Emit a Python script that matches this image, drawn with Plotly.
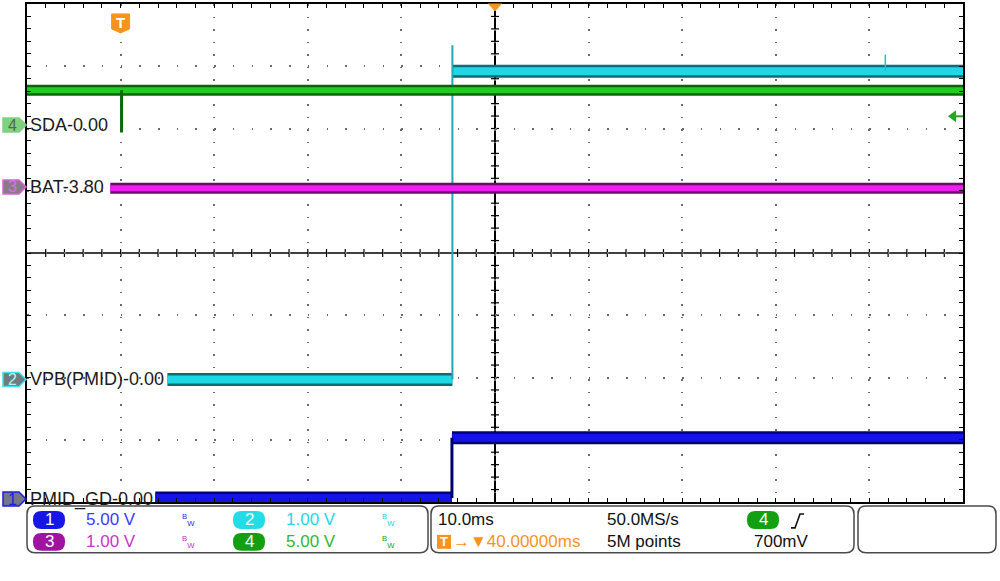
import plotly.graph_objects as go

# ---------------- data ----------------
# horizontal: 10 ms/div, 10 divisions, trigger delay 40 ms (time in ms relative to trigger)
time_per_div_ms = 10.0
n_div_x = 10
trigger_delay_ms = 40.0
t_left = trigger_delay_ms - n_div_x / 2 * time_per_div_ms   # -10 ms
t_right = trigger_delay_ms + n_div_x / 2 * time_per_div_ms  # 90 ms

# channels (1..4)
ch_labels = ["PMID_GD-0.00", "VPB(PMID)-0.00", "BAT-3.80", "SDA-0.00"]
ch_scale = [5.0, 1.0, 1.0, 5.0]            # V/div
ch_offset = [0.0, 0.0, 3.80, 0.0]          # V at marker
ch_position = [-3.952, -2.032, 1.061, 2.056]  # marker position, divisions from centre
ch_scale_text = ["5.00 V", "1.00 V", "1.00 V", "5.00 V"]

# ch1 PMID_GD : visible start, rising edge, end (ms) / low, high (V)
pmid_gd_t = [3.7, 35.4, 90.0]
pmid_gd_v = [0.08, 4.92]
# ch2 VPB(PMID)
vpb_t = [5.0, 35.45, 90.0]
vpb_v = [0.0, 4.95]
vpb_spike_t = [35.45, 81.7]
vpb_spike_v = [5.37, 5.22]
# ch3 BAT
bat_t = [-1.1, 90.0]
bat_v = [3.78]
# ch4 SDA
sda_t = [-10.0, 90.0]
sda_v = [2.8]
sda_glitch_t = [0.1]
sda_glitch_v = [-0.6]
# trigger on ch4, rising edge, level
trigger_level_v = 0.70

# status bar texts
timebase_text = "10.0ms"
sample_rate_text = "50.0MS/s"
record_text = "5M points"
delay_text = "\u2192\u25BC40.00000ms"
trig_level_text = "700mV"

# ---------------- styling ----------------
PL, PT, PW, PH = 27, 2, 936, 500
FONT = "Liberation Sans"

def xp(px):
    return (px - PL) / PW

def yp(py):
    return (PT + PH - py) / PH

def P(px, py):
    return f"{xp(px):.5f},{yp(py):.5f}"

def div_to_py(d):
    return PT + PH * (4 - d) / 8

def rrect(x0, y0, x1, y1, r):
    return ("M" + P(x0 + r, y0) + " L" + P(x1 - r, y0) + " Q" + P(x1, y0) + " " + P(x1, y0 + r) +
            " L" + P(x1, y1 - r) + " Q" + P(x1, y1) + " " + P(x1 - r, y1) +
            " L" + P(x0 + r, y1) + " Q" + P(x0, y1) + " " + P(x0, y1 - r) +
            " L" + P(x0, y0 + r) + " Q" + P(x0, y0) + " " + P(x0 + r, y0) + " Z")

fig = go.Figure()
shapes = []
annots = []

dark = ["#00006e", "#0b6d75", "#6e0a6e", "#0a650a"]
bright = ["#1414e8", "#1ed8e4", "#ee1fee", "#1fcc1f"]
widths = [13, 13, 11, 11]
axes_ids = ["y2", "y3", "y4", "y5"]


def band(x0, x1, v, ch):
    for col, w in ((dark[ch], widths[ch]), (bright[ch], widths[ch] - 5)):
        fig.add_trace(go.Scatter(x=[x0, x1], y=[v, v], mode="lines", yaxis=axes_ids[ch],
                                 line=dict(color=col, width=w), hoverinfo="skip"))


def vline(x, v0, v1, ch, color, w):
    fig.add_trace(go.Scatter(x=[x, x], y=[v0, v1], mode="lines", yaxis=axes_ids[ch],
                             line=dict(color=color, width=w), hoverinfo="skip"))

# invisible trace on the main (division) subplot so it is always drawn
fig.add_trace(go.Scatter(x=[t_left, t_right], y=[0, 0], mode="lines",
                         line=dict(width=0, color="rgba(0,0,0,0)"), hoverinfo="skip"))
# ch4 SDA
band(sda_t[0], sda_t[1], sda_v[0], 3)
for t, v in zip(sda_glitch_t, sda_glitch_v):
    vline(t, sda_v[0], v, 3, "#0a6a0a", 3)
# ch3 BAT
band(bat_t[0], bat_t[1], bat_v[0], 2)
# ch1 PMID_GD
band(pmid_gd_t[0], pmid_gd_t[1], pmid_gd_v[0], 0)
band(pmid_gd_t[1], pmid_gd_t[2], pmid_gd_v[1], 0)
vline(pmid_gd_t[1], pmid_gd_v[0], pmid_gd_v[1], 0, "#00006e", 3)
# ch2 VPB(PMID)
band(vpb_t[0], vpb_t[1], vpb_v[0], 1)
band(vpb_t[1], vpb_t[2], vpb_v[1], 1)
vline(vpb_spike_t[0], vpb_v[0], vpb_spike_v[0], 1, "#22a8b2", 2)
vline(vpb_spike_t[1], vpb_v[1], vpb_spike_v[1], 1, "#22c0cc", 1.5)

# ---------------- axes ----------------
layout_axes = {}
for i in range(4):
    lo = ch_offset[i] + (-4 - ch_position[i]) * ch_scale[i]
    hi = ch_offset[i] + (4 - ch_position[i]) * ch_scale[i]
    layout_axes["yaxis%d" % (i + 2)] = dict(range=[lo, hi], overlaying="y", anchor="x",
                                             visible=False)

main_common = dict(showticklabels=False, zeroline=False, showline=True, linecolor="black",
                   linewidth=2, mirror="allticks", ticks="inside", ticklen=4, tickwidth=1.2,
                   tickcolor="black", showgrid=True, gridcolor="#6a6a6a", gridwidth=1.5)
fig.update_layout(
    xaxis=dict(range=[t_left, t_right], dtick=time_per_div_ms, griddash="1.5px,11px",
               minor=dict(dtick=time_per_div_ms / 5, ticks="inside", ticklen=4,
                          tickcolor="black", showgrid=False), **main_common),
    yaxis=dict(range=[-4, 4], dtick=1, griddash="1.5px,17.22px",
               minor=dict(dtick=0.2, ticks="inside", ticklen=4, tickcolor="black",
                          showgrid=False), **main_common),
    **layout_axes,
)

# centre cross lines with their tick marks
t_center = trigger_delay_ms
shapes.append(dict(type="line", xref="x", yref="y", x0=t_center, x1=t_center, y0=-4, y1=4,
                   line=dict(color="black", width=2), layer="below"))
shapes.append(dict(type="line", xref="x", yref="y", x0=t_left, x1=t_right, y0=0, y1=0,
                   line=dict(color="black", width=1.5), layer="below"))
for k in range(1, 40):
    d = -4 + k * 0.2
    shapes.append(dict(type="line", xref="x", yref="y", xsizemode="pixel", xanchor=t_center,
                       x0=-4, x1=4, y0=d, y1=d, line=dict(color="black", width=1.2), layer="below"))
for k in range(1, 50):
    t = t_left + k * time_per_div_ms / 5
    shapes.append(dict(type="line", xref="x", yref="y", ysizemode="pixel", yanchor=0,
                       y0=-4, y1=4, x0=t, x1=t, line=dict(color="black", width=1.2), layer="below"))

# ---------------- channel markers & labels ----------------
mk_fill = ["#767688", "#6d7d7f", "#877b87", "#7fd27f"]
mk_line = ["#1d1de0", "#3fe0e8", "#e05ce0", "#7fd27f"]
mk_text = ["#1d1de0", "#b4f2f6", "#e06ee0", "#4f6a4f"]
for i in range(4):
    cy = div_to_py(ch_position[i])
    path = ("M" + P(3, cy - 7) + " L" + P(19, cy - 7) + " L" + P(26, cy) + " L" + P(19, cy + 7) +
            " L" + P(3, cy + 7) + " Z")
    shapes.append(dict(type="path", path=path, xref="paper", yref="paper", fillcolor=mk_fill[i],
                       line=dict(color=mk_line[i], width=1.5), layer="above"))
    annots.append(dict(text=str(i + 1), x=xp(12.5), y=yp(cy), xref="paper", yref="paper",
                       xanchor="center", yanchor="middle", showarrow=False,
                       font=dict(family=FONT, size=16, color=mk_text[i])))
    annots.append(dict(text=ch_labels[i], x=xp(28), y=yp(cy), xref="paper", yref="paper",
                       xanchor="left", yanchor="middle", showarrow=False,
                       font=dict(family=FONT, size=18, color="#1a1a1a")))

# trigger-level arrow (ch4) at right edge
ty = div_to_py(ch_position[3] + trigger_level_v / ch_scale[3])
shapes.append(dict(type="path", path="M" + P(948, ty) + " L" + P(956, ty - 6) + " L" + P(956, ty + 6) + " Z",
                   xref="paper", yref="paper", fillcolor="#1faa1f", line=dict(width=0)))
shapes.append(dict(type="line", x0=xp(955), x1=xp(963), y0=yp(ty), y1=yp(ty), xref="paper",
                   yref="paper", line=dict(color="#1faa1f", width=2)))

# trigger T marker at trigger time
tx = PL + (0 - t_left) / (t_right - t_left) * PW
shapes.append(dict(type="path", xref="paper", yref="paper", fillcolor="#f7941d",
                   line=dict(color="#f7941d", width=1),
                   path="M" + P(tx - 9, 12) + " L" + P(tx + 9, 12) + " L" + P(tx + 9, 27) +
                        " L" + P(tx, 31) + " L" + P(tx - 9, 27) + " Z"))
annots.append(dict(text="<b>T</b>", x=xp(tx), y=yp(20.5), xref="paper", yref="paper",
                   xanchor="center", yanchor="middle",
                   showarrow=False, font=dict(family=FONT, size=15, color="white")))
# horizontal position marker (centre)
cx = PL + (trigger_delay_ms - t_left) / (t_right - t_left) * PW
shapes.append(dict(type="path", xref="paper", yref="paper", fillcolor="#f7941d",
                   line=dict(color="#f7941d", width=1),
                   path="M" + P(cx - 7, 1) + " L" + P(cx + 7, 1) + " L" + P(cx, 9) + " Z"))
# remnant of top status box
shapes.append(dict(type="line", xref="paper", yref="paper", x0=xp(152), x1=xp(836),
                   y0=yp(0.8), y1=yp(0.8), line=dict(color="black", width=1.5)))

# ---------------- bottom status bar ----------------
box_col = "#4a4a4a"
for x0, x1 in ((27, 428), (431, 854), (858, 996)):
    shapes.append(dict(type="path", path=rrect(x0, 506, x1, 553, 8), xref="paper", yref="paper",
                       line=dict(color=box_col, width=1.5), fillcolor="rgba(0,0,0,0)"))

badge_col = ["#1616e6", "#24dce6", "#a012a0", "#12a012"]
txt_col = ["#3a3aff", "#28d6e6", "#cc33cc", "#33b833"]
bw_col = ["#2a2aee", "#28d0e0", "#bb33bb", "#189a18"]
rows = [520, 542]
pos_xy = [(0, 0), (1, 0), (0, 1), (1, 1)]  # (column, row) for ch1..ch4


def pill(x0, x1, cy, color, text):
    shapes.append(dict(type="path", path=rrect(x0, cy - 9, x1, cy + 9, 8.5), xref="paper",
                       yref="paper", fillcolor=color, line=dict(width=0)))
    annots.append(dict(text=text, x=xp((x0 + x1) / 2), y=yp(cy), xref="paper", yref="paper",
                       xanchor="center", yanchor="middle",
                       showarrow=False, font=dict(family=FONT, size=17, color="white")))

for i in range(4):
    col, row = pos_xy[i]
    bx = 33 + col * 200
    cy = rows[row]
    pill(bx, bx + 32, cy, badge_col[i], str(i + 1))
    annots.append(dict(text=ch_scale_text[i], x=xp(bx + 51), y=yp(cy), xref="paper", yref="paper",
                       xanchor="left", yanchor="middle", showarrow=False,
                       font=dict(family=FONT, size=17, color=txt_col[i])))
    annots.append(dict(text="<sup>B</sup><sub>W</sub>", x=xp(bx + 147), y=yp(cy), xref="paper",
                       yref="paper", xanchor="left", yanchor="middle", showarrow=False,
                       font=dict(family=FONT, size=11, color=bw_col[i])))

def txt(s, x, y, color="#111111", size=17):
    annots.append(dict(text=s, x=xp(x), y=yp(y), xref="paper", yref="paper", xanchor="left",
                       yanchor="middle", showarrow=False,
                       font=dict(family=FONT, size=size, color=color)))

txt(timebase_text, 436, rows[0])
txt(sample_rate_text, 605, rows[0])
txt(record_text, 605, rows[1])
txt(trig_level_text, 752, rows[1])
pill(747, 779, rows[0], "#12a012", "4")
shapes.append(dict(type="path", xref="paper", yref="paper", line=dict(color="#111111", width=1.6),
                   path="M" + P(791, 528) + " L" + P(795, 528) + " L" + P(800, 514) + " L" + P(804, 514)))
# trigger delay with T icon
shapes.append(dict(type="rect", xref="paper", yref="paper", x0=xp(437), x1=xp(451),
                   y0=yp(535), y1=yp(549), fillcolor="#f7941d", line=dict(width=0)))
annots.append(dict(text="<b>T</b>", x=xp(444), y=yp(542), xref="paper", yref="paper",
                   xanchor="center", yanchor="middle",
                   showarrow=False, font=dict(family=FONT, size=13, color="white")))
txt(delay_text, 451, rows[1], color="#f7941d")

fig.update_layout(
    width=1000, height=581,
    margin=dict(l=PL, r=1000 - PL - PW, t=PT, b=581 - PT - PH),
    plot_bgcolor="white", paper_bgcolor="white", showlegend=False,
    shapes=shapes, annotations=annots,
    font=dict(family=FONT),
)

fig.write_html("out.html", config={"displayModeBar": False},
               post_script="document.body.style.margin='0';document.documentElement.style.overflow='hidden';")
